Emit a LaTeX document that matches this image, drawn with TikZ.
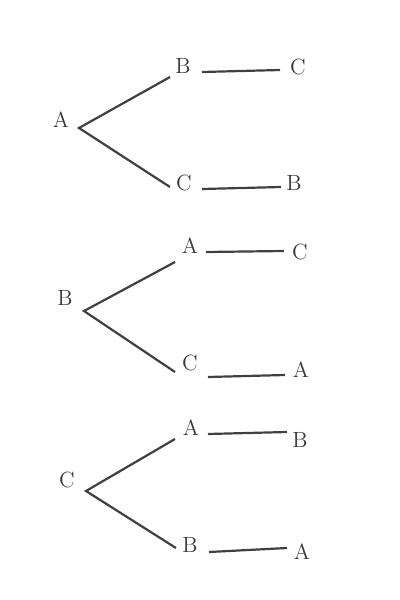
\documentclass[tikz,border=0pt]{standalone}
\begin{document}
\begin{tikzpicture}[x=0.5pt,y=-0.5pt,
  lbl/.style={inner sep=0pt,outer sep=0pt,text=black!78,font=\fontsize{11}{12}\selectfont},
  ln/.style={draw=black!75,line width=1.1pt}]
\useasboundingbox (0,0) rectangle (400,600);
% tree 1
\node[lbl] (a1) at (61,120) {A};
\coordinate (v1) at (79,128);
\node[lbl] (b1) at (183,66) {B};
\node[lbl] (c1) at (298,67) {C};
\node[lbl] (c2) at (184,183) {C};
\node[lbl] (b2) at (294,183) {B};
\coordinate (e1) at (170,77);
\coordinate (e2) at (170,187);
\coordinate (s1) at (202,72); \coordinate (t1) at (280,70);
\coordinate (s2) at (202,189); \coordinate (t2) at (281,187);
\draw[ln] (e1) -- (v1) -- (e2);
\draw[ln] (s1) -- (t1);
\draw[ln] (s2) -- (t2);
% tree 2
\node[lbl] (b3) at (65,298) {B};
\coordinate (v2) at (84,311);
\node[lbl] (a3) at (190,246) {A};
\node[lbl] (c3) at (300,252) {C};
\node[lbl] (c4) at (190,363) {C};
\node[lbl] (a4) at (301,370) {A};
\coordinate (e3) at (175,262);
\coordinate (e4) at (175,372);
\coordinate (s3) at (206,252); \coordinate (t3) at (284,251);
\coordinate (s4) at (208,377); \coordinate (t4) at (285,375);
\draw[ln] (e3) -- (v2) -- (e4);
\draw[ln] (s3) -- (t3);
\draw[ln] (s4) -- (t4);
% tree 3
\node[lbl] (c5) at (67,480) {C};
\coordinate (v3) at (86,491);
\node[lbl] (a5) at (191,428) {A};
\node[lbl] (b5) at (300,440) {B};
\node[lbl] (b6) at (190,545) {B};
\node[lbl] (a6) at (302,552) {A};
\coordinate (e5) at (175,439);
\coordinate (e6) at (176,548);
\coordinate (s5) at (208,434); \coordinate (t5) at (287,432);
\coordinate (s6) at (209,552); \coordinate (t6) at (287,548);
\draw[ln] (e5) -- (v3) -- (e6);
\draw[ln] (s5) -- (t5);
\draw[ln] (s6) -- (t6);
\end{tikzpicture}
\end{document}
